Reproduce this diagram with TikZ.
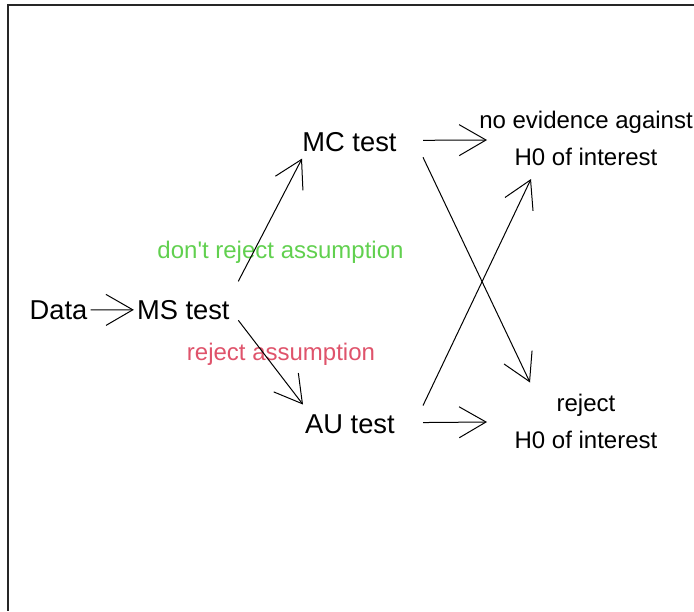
\documentclass[tikz,border=0pt]{standalone}
\usepackage{fontspec}
\setmainfont{Liberation Sans}
\usetikzlibrary{arrows.meta,calc}
\definecolor{rgreen}{HTML}{61D04F}
\definecolor{rred}{HTML}{DF536B}
\tikzset{test node/.style={inner sep=3pt, anchor=base,
font=\fontsize{27.3}{32.8}\selectfont},
end node/.style={inner sep=3pt, anchor=base, align=center,
font=\fontsize{24}{37}\selectfont},
branch label/.style={inner sep=0pt, anchor=base,
font=\fontsize{24}{28.8}\selectfont},
r arrow/.style={-{Straight Barb[angle=60:31pt]}, line width=1pt}}

\begin{document}
\begin{tikzpicture}[x=1pt, y=-1pt]
        \useasboundingbox (0, 0) rectangle (694, 611);
        \draw[line width=1.5pt, black!85] (694, 5) -- (8, 5) -- (8, 611);

        \node[test node] (data) at (58.5, 319.2) {Data};
        \node[test node] (ms) at (183.3, 319.2) {MS test};
        \node[test node] (mc) at (349.5, 151) {MC test};
        \node[test node] (au) at (350, 433.3) {AU test};
        % base of a two-line node is its last line
        \node[end node] (keep) at (586, 165.5) {no evidence against\\H0 of interest};
        \node[end node] (rej) at (586, 448.5) {reject\\H0 of interest};

        \node[branch label, text=rgreen] (ok) at (280.5, 258.3) {don\textquotesingle t reject assumption};
        \node[branch label, text=rred] (bad) at (281, 360) {reject assumption};

        \draw (data.east) edge[r arrow] (ms.west)
              ($(ms)+(55, -28.5)$) edge[r arrow] ($(mc)+(-47.5, 17)$)
              ($(ms)+(55, 10.5)$) edge[r arrow] ($(au)+(-47, -19.5)$)

              ($(mc)+(73.5, -1.3)$) edge[r arrow] ($(keep.base)+(-99, -25.5)$)
              ($(mc)+(73.5, 15.7)$) edge[r arrow] ($(rej.base)+(-56, -66)$)

              ($(au)+(73, -18.5)$) edge[r arrow] ($(keep.base)+(-55, 13.5)$)
              ($(au)+(73, -1.5)$) edge[r arrow] ($(rej.base)+(-99, -26.5)$);
\end{tikzpicture}
\end{document}
